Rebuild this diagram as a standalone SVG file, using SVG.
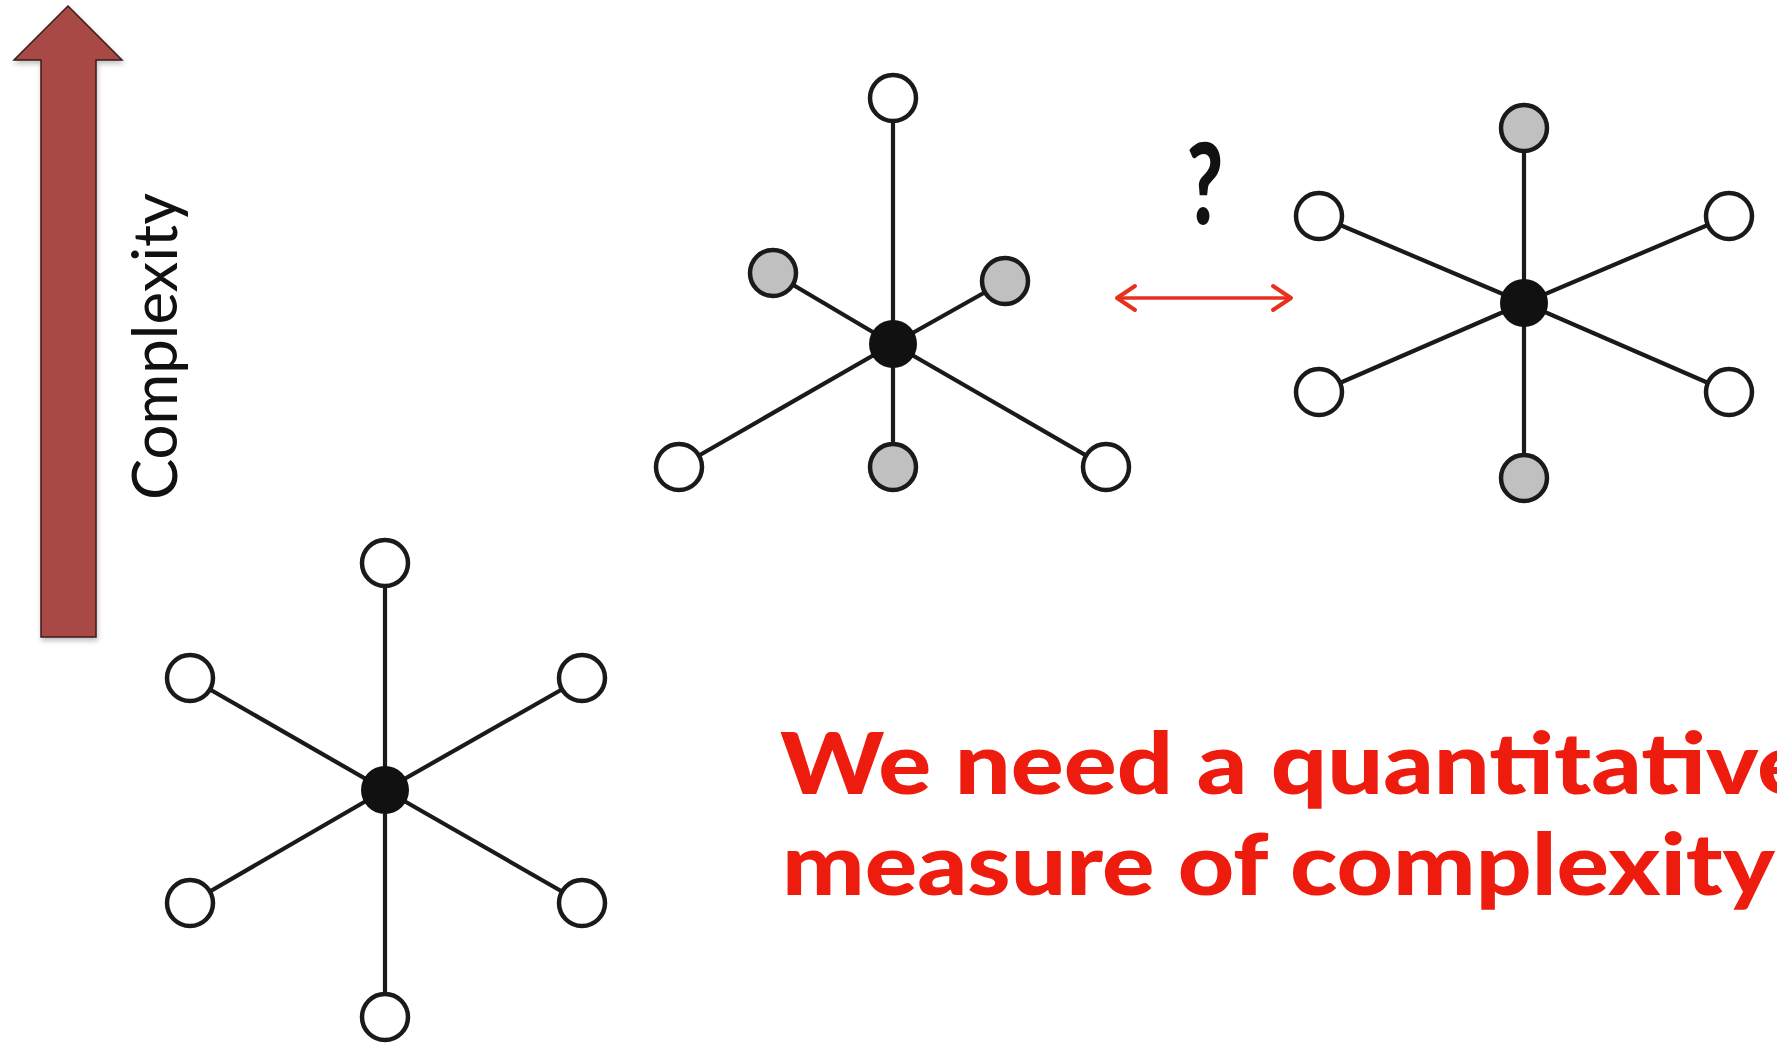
<svg xmlns="http://www.w3.org/2000/svg" width="1777" height="1045" viewBox="0 0 1777 1045">
  <style>
    .edge { stroke: #1a1a1a; stroke-width: 4.2; fill: none; }
    .leaf { stroke: #1a1a1a; stroke-width: 4.5; fill: #ffffff; }
    .gray { fill: #c0c0c0; }
    .hub { fill: #111111; stroke: none; }
    .label { font-family: Lato, "Open Sans", "Liberation Sans", sans-serif; }
    .red { fill: #ee1c0e; font-weight: 900; font-size: 85px; }
  </style>
  <defs>
    <marker id="chev" markerUnits="userSpaceOnUse" viewBox="0 0 24 30" refX="21" refY="15" markerWidth="24" markerHeight="30" orient="auto-start-reverse">
      <path d="M3,3 L21,15 L3,27" fill="none" stroke="#e8301f" stroke-width="4" stroke-linecap="round" stroke-linejoin="round"/>
    </marker>
    <filter id="shadow" x="-20%" y="-5%" width="140%" height="110%">
      <feDropShadow dx="1" dy="3" stdDeviation="2.5" flood-color="#000" flood-opacity="0.25"/>
    </filter>
  </defs>
  <rect width="1777" height="1045" fill="#ffffff"/>

  <g id="complexity-arrow">
    <polygon points="68,6 122,60 96,60 96,637 41,637 41,60 14,60" fill="#a84a44" stroke="#3a1c1a" stroke-width="1.5" stroke-linejoin="miter" filter="url(#shadow)"/>
    <text class="label" transform="translate(177,500) rotate(-90)" x="0" y="0" font-size="62" fill="#111" textLength="307" lengthAdjust="spacingAndGlyphs">Complexity</text>
  </g>

  <g id="connectors">
    <!-- graph A (bottom-left) -->
    <line class="edge" x1="385" y1="790" x2="385" y2="563"/>
    <line class="edge" x1="385" y1="790" x2="190" y2="678"/>
    <line class="edge" x1="385" y1="790" x2="582" y2="678"/>
    <line class="edge" x1="385" y1="790" x2="190" y2="903"/>
    <line class="edge" x1="385" y1="790" x2="582" y2="903"/>
    <line class="edge" x1="385" y1="790" x2="385" y2="1017"/>
    <!-- graph B (top-middle) -->
    <line class="edge" x1="893" y1="344" x2="893" y2="98"/>
    <line class="edge" x1="893" y1="344" x2="773" y2="273"/>
    <line class="edge" x1="893" y1="344" x2="1005" y2="281"/>
    <line class="edge" x1="893" y1="344" x2="893" y2="467"/>
    <line class="edge" x1="893" y1="344" x2="679" y2="467"/>
    <line class="edge" x1="893" y1="344" x2="1106" y2="467"/>
    <!-- graph C (right) -->
    <line class="edge" x1="1524" y1="303" x2="1524" y2="128"/>
    <line class="edge" x1="1524" y1="303" x2="1319" y2="216"/>
    <line class="edge" x1="1524" y1="303" x2="1729" y2="216"/>
    <line class="edge" x1="1524" y1="303" x2="1319" y2="392"/>
    <line class="edge" x1="1524" y1="303" x2="1729" y2="392"/>
    <line class="edge" x1="1524" y1="303" x2="1524" y2="478"/>
    <!-- comparison arrow -->
    <line x1="1117" y1="298" x2="1291" y2="298" stroke="#e8301f" stroke-width="3.5" marker-start="url(#chev)" marker-end="url(#chev)"/>
  </g>

  <g id="graphA">
    <circle class="hub" cx="385" cy="790" r="24"/>
    <circle class="leaf" cx="385" cy="563" r="23"/>
    <circle class="leaf" cx="190" cy="678" r="23"/>
    <circle class="leaf" cx="582" cy="678" r="23"/>
    <circle class="leaf" cx="190" cy="903" r="23"/>
    <circle class="leaf" cx="582" cy="903" r="23"/>
    <circle class="leaf" cx="385" cy="1017" r="23"/>
  </g>

  <g id="graphB">
    <circle class="hub" cx="893" cy="344" r="24"/>
    <circle class="leaf" cx="893" cy="98" r="23"/>
    <circle class="leaf gray" cx="773" cy="273" r="23"/>
    <circle class="leaf gray" cx="1005" cy="281" r="23"/>
    <circle class="leaf gray" cx="893" cy="467" r="23"/>
    <circle class="leaf" cx="679" cy="467" r="23"/>
    <circle class="leaf" cx="1106" cy="467" r="23"/>
  </g>

  <g id="graphC">
    <circle class="hub" cx="1524" cy="303" r="24"/>
    <circle class="leaf gray" cx="1524" cy="128" r="23"/>
    <circle class="leaf" cx="1319" cy="216" r="23"/>
    <circle class="leaf" cx="1729" cy="216" r="23"/>
    <circle class="leaf" cx="1319" cy="392" r="23"/>
    <circle class="leaf" cx="1729" cy="392" r="23"/>
    <circle class="leaf gray" cx="1524" cy="478" r="23"/>
  </g>

  <g id="question">
    <text class="label" transform="translate(1205,224) scale(0.7,1)" text-anchor="middle" font-size="112" font-weight="900" fill="#111">?</text>
  </g>

  <g id="message">
    <text class="label red" x="780" y="794" textLength="1030" lengthAdjust="spacingAndGlyphs">We need a quantitative</text>
    <text class="label red" x="782" y="895" textLength="993" lengthAdjust="spacingAndGlyphs">measure of complexity</text>
  </g>
</svg>
